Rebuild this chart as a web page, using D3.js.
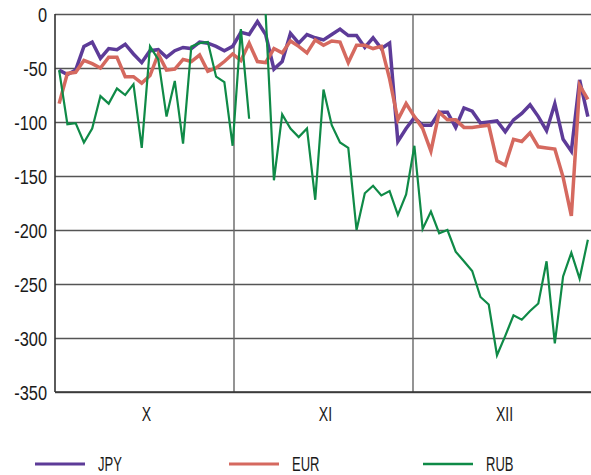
<!DOCTYPE html>
<html lang="en">
<head>
<meta charset="UTF-8">
<title>JPY / EUR / RUB</title>
<script src="https://d3js.org/d3.v7.min.js"></script>
<style>
    body { margin: 0; background: #fff; }
    svg { display: block; }
    text { font-family: "Liberation Sans", Arial, sans-serif; fill: #1a1a1a; }
</style>
</head>
<body>
<div id="chart"></div>
<script>
    // daily points, Oct - Dec (65 trading points, evenly spaced)
    const months = ["X", "XI", "XII"];
    const yTicks = [0, -50, -100, -150, -200, -250, -300, -350];

    const jpy = [-52, -56, -52, -30, -26, -41, -32, -33, -28, -37, -45, -34, -33, -40, -34, -31, -32, -26, -27, -30, -34, -30, -17,
        -19, -7, -19, -51, -44, -18, -27, -19, -22, -24, -19, -14, -20, -20, -31, -22, -32, -27,
        -118, -106, -96, -103, -103, -91, -91, -105, -87, -90, -101, -100, -99, -109, -98, -92, -84, -95, -108, -83, -116, -127, -61, -95];

    const eur = [-83, -55, -54, -43, -46, -50, -40, -40, -58, -58, -64, -57, -37, -52, -51, -42, -44, -38, -53, -50, -44, -37,
        -43, -27, -44, -45, -32, -36, -25, -30, -36, -24, -29, -25, -26, -45, -29, -29, -32, -30, -60,
        -98, -83, -95, -106, -127, -91, -98, -98, -105, -105, -104, -103, -136, -140, -116, -118, -110, -123, -124, -125, -151, -187, -66, -79];

    const rub = [-52, -102, -101, -119, -106, -76, -83, -69, -75, -65, -124, -30, -42, -95, -62, -120, -30, -27, -26, -58, -63, -122,
        -14, -97, null, 0, -154, -93, -106, -114, -106, -172, -70, -103, -119, -124, -200, -166, -159, -168, -164,
        -186, -167, -122, -199, -183, -203, -200, -220, -229, -238, -262, -269, -316, -298, -279, -283, -275, -268, -229, -305, -243, -221, -245, -209];

    const seriesNames = ["JPY", "EUR", "RUB"];
    const seriesColors = ["#5d3b98", "#d5695f", "#0f8a47"];
    const seriesWidths = [3.5, 3.5, 2.2];
    const seriesData = [jpy, eur, rub];

    const width = 591, height = 475;
    const plotLeft = 55, plotRight = 592, plotTop = 14, plotBottom = 392;

    const svg = d3.select("#chart").append("svg")
        .attr("width", width)
        .attr("height", height);

    const x = d3.scaleBand().domain(d3.range(jpy.length)).range([plotLeft, plotRight]);
    const xm = d3.scaleBand().domain(months).range([plotLeft, plotRight]);
    const y = d3.scaleLinear().domain([-350, 0]).range([plotBottom, plotTop]);

    // condensed look: squeeze text horizontally
    function squeeze(sel, sx) {
        sel.attr("transform", function () {
            const old = d3.select(this).attr("transform") || "";
            return old + ` scale(${sx},1)`;
        });
    }

    // horizontal grid + y labels (plain hyphen minus, like the original)
    const yAxis = svg.append("g")
        .attr("transform", `translate(${plotLeft},0)`)
        .call(d3.axisLeft(y).tickValues(yTicks).tickSize(-(plotRight - plotLeft)).tickFormat(d => String(d)));
    yAxis.select(".domain").remove();
    yAxis.selectAll(".tick line").attr("stroke", "#555").attr("stroke-width", 1.4);
    yAxis.selectAll(".tick text")
        .attr("x", -8 / 0.78)
        .attr("dy", "0.36em")
        .style("font-size", "21px")
        .style("font-family", "'Liberation Sans', Arial, sans-serif")
        .attr("fill", "#1a1a1a");
    squeeze(yAxis.selectAll(".tick text"), 0.78);

    // month separators
    svg.append("g").selectAll("line")
        .data(months.slice(1))
        .join("line")
        .attr("x1", d => xm(d)).attr("x2", d => xm(d))
        .attr("y1", plotTop).attr("y2", plotBottom)
        .attr("stroke", "#666").attr("stroke-width", 1.4);

    // month labels
    svg.append("g").selectAll("text")
        .data(months)
        .join("text")
        .attr("transform", d => `translate(${xm(d) + xm.bandwidth() / 2 + 2},421)`)
        .attr("text-anchor", "middle")
        .style("font-size", "19.5px")
        .text(d => d)
        .call(s => squeeze(s, 0.72));

    // clip lines to the plot area
    svg.append("clipPath").attr("id", "plot")
        .append("rect").attr("x", plotLeft).attr("y", plotTop)
        .attr("width", plotRight - plotLeft).attr("height", plotBottom - plotTop);

    const line = d3.line()
        .defined(d => d !== null)
        .x((d, i) => x(i) + x.bandwidth() / 2)
        .y(d => y(d));

    svg.append("g").attr("clip-path", "url(#plot)")
        .selectAll("path")
        .data(seriesData)
        .join("path")
        .attr("fill", "none")
        .attr("stroke", (d, i) => seriesColors[i])
        .attr("stroke-width", (d, i) => seriesWidths[i])
        .attr("stroke-linejoin", "miter")
        .attr("d", line);

    // axis lines
    svg.append("line").attr("x1", plotLeft).attr("x2", plotLeft).attr("y1", plotTop).attr("y2", plotBottom)
        .attr("stroke", "#333").attr("stroke-width", 1.6);
    svg.append("line").attr("x1", plotLeft).attr("x2", plotRight).attr("y1", plotBottom).attr("y2", plotBottom)
        .attr("stroke", "#333").attr("stroke-width", 1.6);

    // legend
    const legendX = [35, 229, 423];
    const legend = svg.append("g").selectAll("g")
        .data(seriesNames)
        .join("g")
        .attr("transform", (d, i) => `translate(${legendX[i]},464)`);
    legend.append("line")
        .attr("x1", 0).attr("x2", 50)
        .attr("stroke", (d, i) => seriesColors[i])
        .attr("stroke-width", (d, i) => i < 2 ? 3 : 2.5);
    legend.append("text")
        .attr("transform", "translate(63,6.5)")
        .style("font-size", "21px")
        .text(d => d)
        .call(s => squeeze(s, 0.62));
</script>
</body>
</html>
